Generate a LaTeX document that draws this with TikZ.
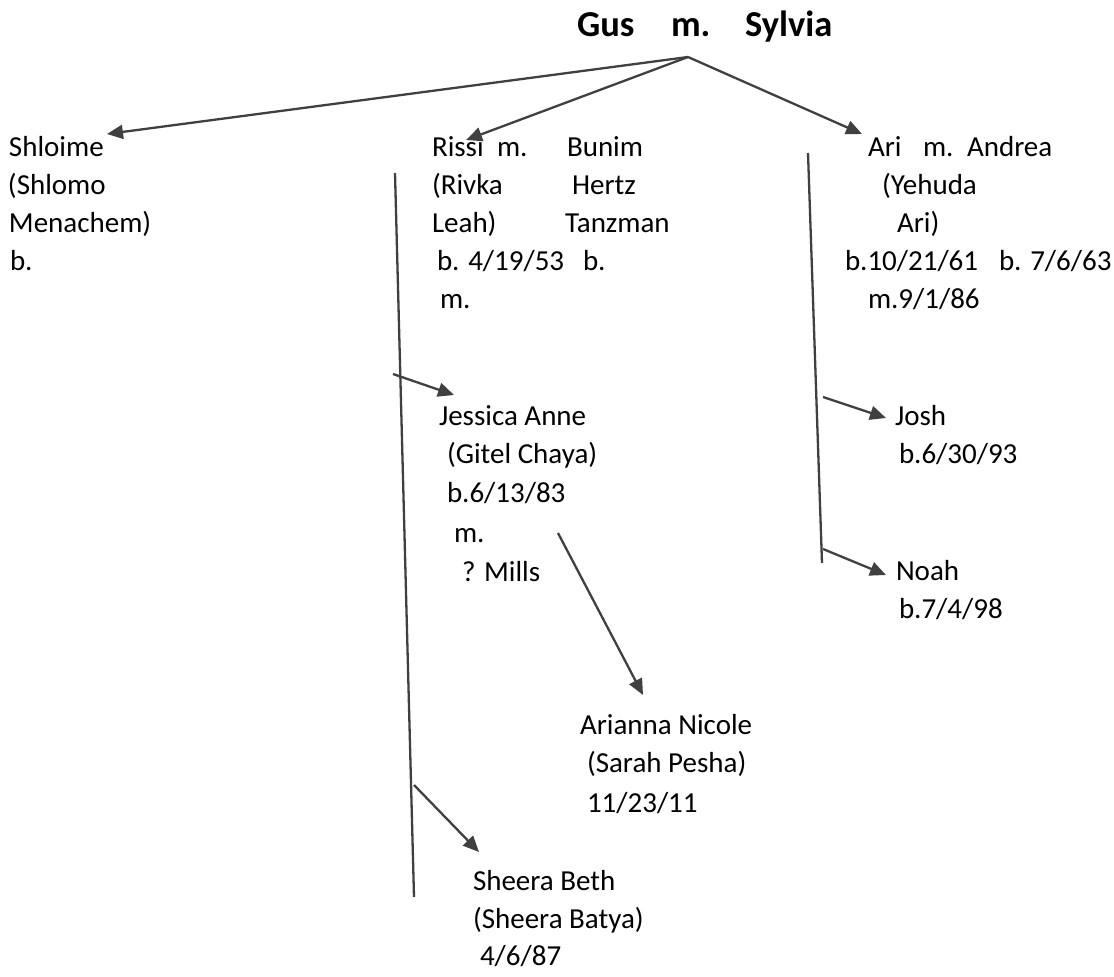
\documentclass[tikz,border=0pt]{standalone}
\usepackage{fontspec}
\setmainfont{Carlito}
\usetikzlibrary{arrows.meta}
\definecolor{lnc}{HTML}{404040}
\tikzset{
  txt/.style={anchor=base west, inner sep=0pt, outer sep=0pt, font=\fontsize{29}{38}\selectfont, text=black},
  ttl/.style={anchor=base west, inner sep=0pt, outer sep=0pt, font=\fontsize{36.5}{42}\selectfont\bfseries, text=black},
  conn/.style={draw=lnc, line width=2.3pt},
  arr/.style={conn, -{Triangle[length=16pt,width=14pt]}},
}
\begin{document}
\begin{tikzpicture}[x=1pt,y=-1pt]
\useasboundingbox (0,0) rectangle (1114,977);
% title
\node[ttl] (gus) at (577,36) {Gus};
\node[ttl] (gm) at (671,36) {m.};
\node[ttl] (sylvia) at (745,36) {Sylvia};
\coordinate (apex) at (688,57);
% Shloime
\node[txt] (s1) at (9,156) {Shloime};
\node[txt] (s2) at (8,194) {(Shlomo};
\node[txt] (s3) at (9,232) {Menachem)};
\node[txt] (s4) at (10,270) {b.};
% Rissi
\node[txt] (r1) at (432,156) {Rissi};
\node[txt] (r1m) at (497,156) {m.};
\node[txt] (b1) at (567,156) {Bunim};
\node[txt] (r2) at (432,194) {(Rivka};
\node[txt] (b2) at (572,194) {Hertz};
\node[txt] (r3) at (432,232) {Leah)};
\node[txt] (b3) at (565,232) {Tanzman};
\node[txt] (r4) at (437,270) {b. 4/19/53};
\node[txt] (b4) at (583,270) {b.};
\node[txt] (r5) at (440,308) {m.};
% Ari
\node[txt] (a1) at (868,156) {Ari};
\node[txt] (a1m) at (923,156) {m.};
\node[txt] (an1) at (967,156) {Andrea};
\node[txt] (a2) at (882,194) {(Yehuda};
\node[txt] (a3) at (897,232) {Ari)};
\node[txt] (a4) at (845,270) {b.10/21/61};
\node[txt] (an4) at (999,270) {b. 7/6/63};
\node[txt] (a5) at (868,308) {m.9/1/86};
% Jessica
\node[txt] (j1) at (439,425) {Jessica Anne};
\node[txt] (j2) at (447,463) {(Gitel Chaya)};
\node[txt] (j3) at (447,502) {b.6/13/83};
\node[txt] (j4) at (454,542) {m.};
\node[txt] (j5) at (462,581) {? Mills};
% Josh, Noah
\node[txt] (jo1) at (895,425) {Josh};
\node[txt] (jo2) at (899,463) {b.6/30/93};
\node[txt] (n1) at (896,580) {Noah};
\node[txt] (n2) at (899,618) {b.7/4/98};
% Arianna
\node[txt] (ar1) at (580,734) {Arianna Nicole};
\node[txt] (ar2) at (587,772) {(Sarah Pesha)};
\node[txt] (ar3) at (587,812) {11/23/11};
% Sheera
\node[txt] (sh1) at (473,890) {Sheera Beth};
\node[txt] (sh2) at (473,928) {(Sheera Batya)};
\node[txt] (sh3) at (480,965) {4/6/87};
% connector coordinates
\coordinate (tipS) at (107,134);
\coordinate (tipR) at (466,140);
\coordinate (tipA) at (862,134);
\coordinate (rtop) at (395,173);
\coordinate (rbot) at (414,897);
\coordinate (jsrc) at (393,374);
\coordinate (jtip) at (454,395);
\coordinate (arsrc) at (558,533);
\coordinate (artip) at (643,695);
\coordinate (shsrc) at (414,785);
\coordinate (shtip) at (479,852);
\coordinate (atop) at (808,153);
\coordinate (abot) at (822,563);
\coordinate (josrc) at (823,397);
\coordinate (jotip) at (886,418);
\coordinate (nsrc) at (823,549);
\coordinate (ntip) at (886,575);
% connectors
\draw[arr] (apex) -- (tipS);
\draw[arr] (apex) -- (tipR);
\draw[arr] (apex) -- (tipA);
\draw[conn] (rtop) -- (rbot);
\draw[arr] (jsrc) -- (jtip);
\draw[arr] (arsrc) -- (artip);
\draw[arr] (shsrc) -- (shtip);
\draw[conn] (atop) -- (abot);
\draw[arr] (josrc) -- (jotip);
\draw[arr] (nsrc) -- (ntip);
\end{tikzpicture}
\end{document}
